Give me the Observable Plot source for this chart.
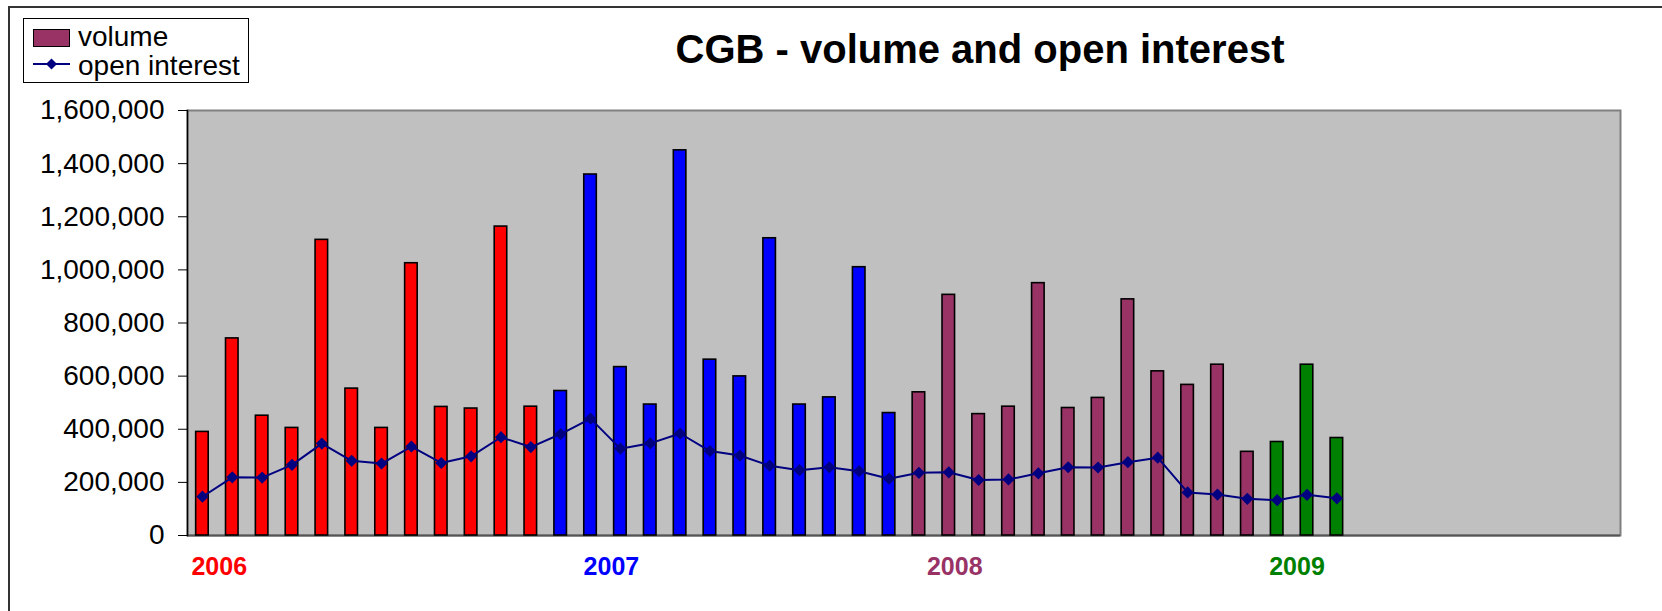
<!DOCTYPE html>
<html>
<head>
<meta charset="utf-8">
<script src="https://cdn.jsdelivr.net/npm/d3@7"></script>
<script src="https://cdn.jsdelivr.net/npm/@observablehq/plot@0.6"></script>
<style>
  html, body { margin: 0; padding: 0; background: #fff; }
  body { width: 1662px; height: 611px; overflow: hidden; position: relative; font-family: "Liberation Sans", Arial, sans-serif; }
  #border { position: absolute; left: 8px; top: 6px; width: 1700px; height: 700px; border-left: 2px solid #333; border-top: 2px solid #333; box-sizing: border-box; }
  #chart { position: absolute; left: 0; top: 0; }
  #title { position: absolute; left: 480px; width: 1000px; top: 29px; text-align: center; font-weight: bold; font-size: 40px; line-height: 40px; color: #000; white-space: nowrap; }
  #legend { position: absolute; left: 23px; top: 18px; width: 226px; height: 65px; border: 1px solid #000; box-sizing: border-box; background: #fff; }
  .lg-text { position: absolute; left: 54px; font-size: 28px; line-height: 26px; height: 26px; color: #000; white-space: nowrap; }
  #sw { position: absolute; left: 9px; top: 10px; width: 37px; height: 18px; background: #993366; border: 1px solid #000; box-sizing: border-box; }
  #lgline { position: absolute; left: 9px; top: 38px; }
</style>
</head>
<body>
<div id="border"></div>
<div id="chart"></div>
<div id="title">CGB - volume and open interest</div>
<div id="legend">
  <div id="sw"></div>
  <div class="lg-text" style="top:5px">volume</div>
  <svg id="lgline" width="38" height="14"><line x1="0" y1="7" x2="37" y2="7" stroke="#000080" stroke-width="2"/><path d="M18.5,1.5 L24,7 L18.5,12.5 L13,7 Z" fill="#000080"/></svg>
  <div class="lg-text" style="top:33.5px">open interest</div>
</div>
<script>
// Categories: 48 monthly slots (2006–2009)
const months = [
  "2006-01","2006-02","2006-03","2006-04","2006-05","2006-06","2006-07","2006-08","2006-09","2006-10","2006-11","2006-12",
  "2007-01","2007-02","2007-03","2007-04","2007-05","2007-06","2007-07","2007-08","2007-09","2007-10","2007-11","2007-12",
  "2008-01","2008-02","2008-03","2008-04","2008-05","2008-06","2008-07","2008-08","2008-09","2008-10","2008-11","2008-12",
  "2009-01","2009-02","2009-03","2009-04","2009-05","2009-06","2009-07","2009-08","2009-09","2009-10","2009-11","2009-12"
];

// Series values (first 39 months have data)
const volume = [
  390000, 742000, 451000, 405000, 1113000, 553000, 405000, 1025000, 484000, 478000, 1163000, 485000,
  544000, 1359000, 634000, 493000, 1450000, 662000, 599000, 1119000, 493000, 520000, 1010000, 461000,
  539000, 906000, 457000, 485000, 950000, 480000, 518000, 889000, 618000, 567000, 643000, 315000,
  352000, 643000, 367000
];
const openInterest = [
  146000, 219000, 218000, 266000, 346000, 281000, 271000, 335000, 273000, 298000, 370000, 333000,
  382000, 440000, 327000, 347000, 384000, 318000, 301000, 263000, 246000, 257000, 242000, 214000,
  236000, 238000, 209000, 211000, 234000, 257000, 256000, 276000, 293000, 162000, 154000, 138000,
  133000, 153000, 140000
];

const years = ["2006", "2007", "2008", "2009"];
const yearColors = ["#FF0000", "#0000FF", "#993366", "#008000"];
const yearLabelMonths = ["2006-02", "2007-03", "2008-02", "2009-02"];
const yearLabelShift = [-13, -9, 6, -10];

const yTicks = [0, 200000, 400000, 600000, 800000, 1000000, 1200000, 1400000, 1600000];

const data = volume.map((v, i) => ({
  month: months[i],
  year: months[i].slice(0, 4),
  volume: v,
  oi: openInterest[i]
}));

const yearMarks = years.map((y, i) =>
  Plot.text([{label: y, month: yearLabelMonths[i]}], {
    x: "month",
    text: "label",
    frameAnchor: "bottom",
    dy: 31,
    dx: yearLabelShift[i],
    fill: yearColors[i],
    fontSize: 25,
    fontWeight: "bold",
    textAnchor: "middle",
    lineAnchor: "middle"
  })
);

const chart = Plot.plot({
  width: 1662,
  height: 611,
  marginLeft: 187,
  marginTop: 110,
  marginBottom: 76,
  marginRight: 42,
  style: {background: "transparent", fontFamily: "'Liberation Sans', Arial, sans-serif", color: "#000", overflow: "visible"},
  x: {domain: months, type: "band", paddingInner: 0.58, paddingOuter: 0.29, axis: null},
  y: {domain: [0, 1600000], axis: null},
  color: {domain: years, range: yearColors},
  marks: [
    Plot.frame({fill: "#C0C0C0", stroke: "#808080", strokeWidth: 2}),
    Plot.ruleY([0], {stroke: "#555", strokeWidth: 2}),
    Plot.frame({anchor: "left", stroke: "#000", strokeWidth: 1.5}),
    Plot.axisY({
      ticks: yTicks,
      tickSize: 9,
      tickPadding: 14,
      fontSize: 28,
      tickFormat: d3.format(","),
      label: null,
      stroke: "#000"
    }),
    Plot.barY(data, {x: "month", y: "volume", fill: "year", stroke: "#000", strokeWidth: 1.6}),
    Plot.line(data, {x: "month", y: "oi", stroke: "#000080", strokeWidth: 2}),
    Plot.dot(data, {x: "month", y: "oi", symbol: "diamond2", r: 5.5, fill: "#000080", stroke: "none"}),
    ...yearMarks
  ]
});

document.getElementById("chart").append(chart);
</script>
</body>
</html>
